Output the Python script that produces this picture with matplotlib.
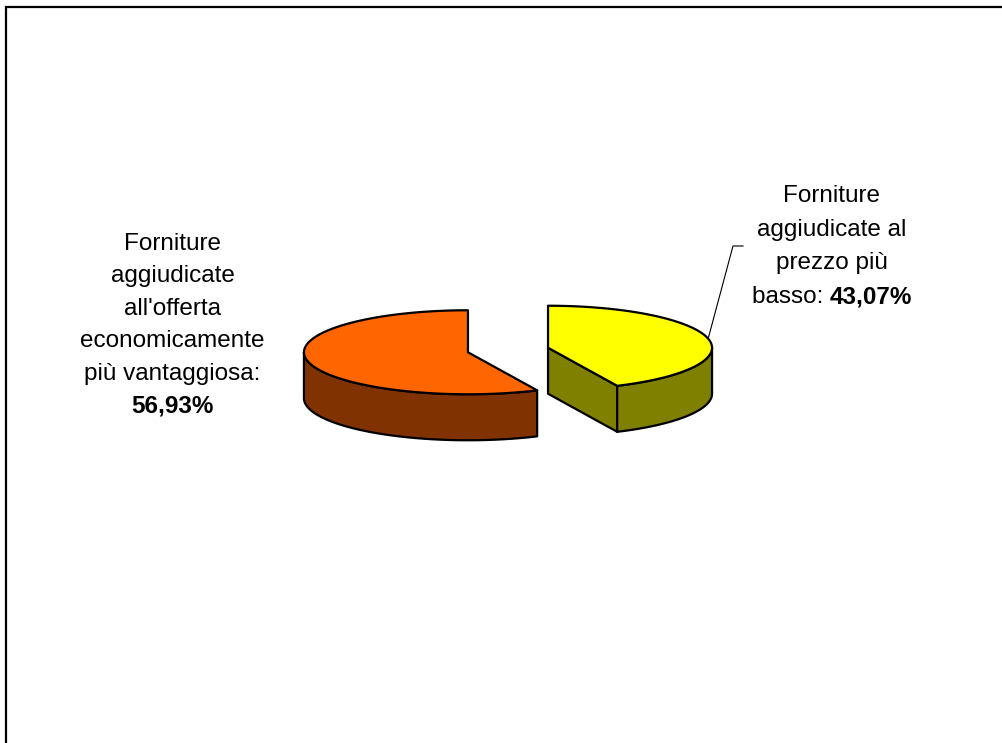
import numpy as np
import matplotlib.pyplot as plt
from matplotlib.patches import Polygon
from matplotlib.colors import to_rgb

# data
categories = ["Forniture aggiudicate all'offerta economicamente più vantaggiosa",
              "Forniture aggiudicate al prezzo più basso"]
shares = [56.93, 43.07]
top_colors = ['#FF6600', '#FFFF00']

left_lines = ["Forniture", "aggiudicate", "all'offerta", "economicamente", "più vantaggiosa:"]
right_lines = ["Forniture", "aggiudicate al", "prezzo più"]
right_last = "basso: "
pct_text = [("%.2f%%" % v).replace('.', ',') for v in shares]

plt.rcParams['font.family'] = ['Liberation Sans', 'DejaVu Sans']

fig = plt.figure(figsize=(10.02, 7.43), dpi=100)
ax = fig.add_axes([0, 0, 1, 1])
ax.set_xlim(0, 1002)
ax.set_ylim(743, 0)
ax.axis('off')

# frame (only left and top edges are inside the picture)
ax.plot([6.5, 6.5, 1002], [743, 6.5, 6.5], color='black', lw=1.6, solid_joinstyle='miter')

# 3D pie geometry
cx0, cy0 = 508, 350
rx, ry, depth = 164, 42, 46
explode = 0.25
start = 90.0


def rim(cx, cy, t, dz=0):
    t = np.radians(t)
    return cx + rx * np.cos(t), cy - ry * np.sin(t) + dz


def shade(c, f=0.5):
    r, g, b = to_rgb(c)
    return (r * f, g * f, b * f)


edge = dict(edgecolor='black', lw=1.6, joinstyle='round')
mids = []
t0 = start
for share, col in zip(shares, top_colors):
    t1 = t0 + 360 * share / 100
    mid = (t0 + t1) / 2
    cx = cx0 + explode * rx * np.cos(np.radians(mid))
    cy = cy0 - explode * ry * np.sin(np.radians(mid))
    mids.append((cx, cy, mid))
    side = shade(col)

    # radial faces facing the viewer
    for t, nrm in ((t0, t0 - 90), (t1, t1 + 90)):
        if np.sin(np.radians(nrm)) < -1e-6:
            px, py = rim(cx, cy, t)
            quad = [(cx, cy), (px, py), (px, py + depth), (cx, cy + depth)]
            ax.add_patch(Polygon(quad, closed=True, facecolor=side, **edge))

    # curved outer wall (front half only)
    lo, hi = max(t0, 180), min(t1, 360)
    if hi > lo:
        ts = np.linspace(lo, hi, 120)
        xs, ys = rim(cx, cy, ts)
        pts = list(zip(xs, ys)) + list(zip(xs[::-1], ys[::-1] + depth))
        ax.add_patch(Polygon(pts, closed=True, facecolor=side, **edge))

    # top face
    ts = np.linspace(t0, t1, 200)
    xs, ys = rim(cx, cy, ts)
    pts = [(cx, cy)] + list(zip(xs, ys))
    ax.add_patch(Polygon(pts, closed=True, facecolor=col, **edge))
    t0 = t1

# leader line for the right label
cx, cy, mid = mids[1]
lx, ly = rim(cx, cy, mid)
ax.plot([lx, 733, 743], [ly, 246, 246], color='black', lw=0.8)

fs = 17.5
# left label
for i, s in enumerate(left_lines):
    ax.text(172.5, 250 + 32.4 * i, s, ha='center', va='baseline', fontsize=fs)
ax.text(172.5, 250 + 32.4 * len(left_lines), pct_text[0], ha='center', va='baseline',
        fontsize=fs, fontweight='bold')

# right label
for i, s in enumerate(right_lines):
    ax.text(832, 202 + 33.7 * i, s, ha='center', va='baseline', fontsize=fs)
yb = 202 + 33.7 * len(right_lines)
t_a = ax.text(0, yb, right_last, ha='left', va='baseline', fontsize=fs)
t_b = ax.text(0, yb, pct_text[1], ha='left', va='baseline', fontsize=fs, fontweight='bold')
fig.canvas.draw()
r = fig.canvas.get_renderer()
wa = t_a.get_window_extent(r).width
wb = t_b.get_window_extent(r).width
x_start = 832 - (wa + wb) / 2
t_a.set_x(x_start)
t_b.set_x(x_start + wa)

fig.savefig('out.png', dpi=100)
